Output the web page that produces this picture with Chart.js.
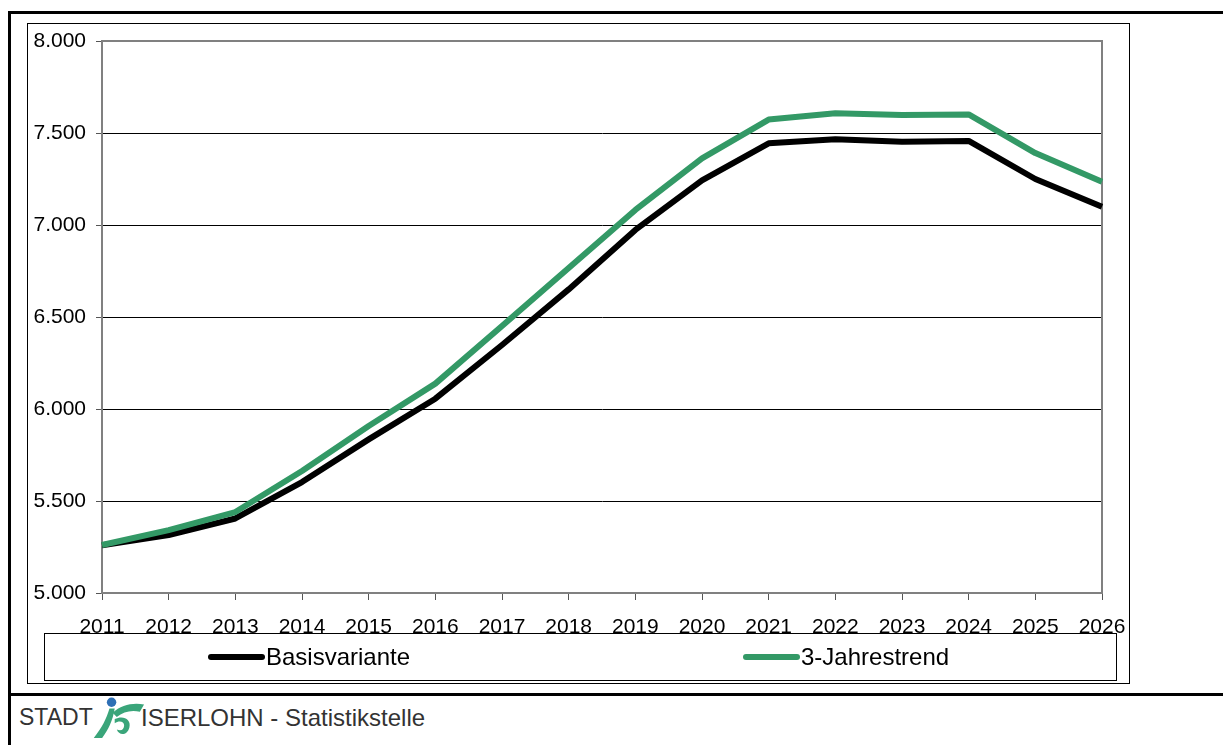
<!DOCTYPE html>
<html lang="de">
<head>
<meta charset="utf-8">
<title>Bevölkerungsprognose</title>
<script src="https://cdn.jsdelivr.net/npm/chart.js@4"></script>
<style>
  html, body { margin:0; padding:0; background:#fff; }
  body { width:1223px; height:745px; position:relative; overflow:hidden; font-family:"Liberation Sans", Arial, sans-serif; }
  #chart { position:absolute; left:0; top:0; }
  .line-top { position:absolute; left:8px; top:11px; width:1215px; height:3px; background:#000; }
  .line-left { position:absolute; left:8px; top:11px; width:3px; height:734px; background:#000; }
  .line-bottom { position:absolute; left:8px; top:693px; width:1215px; height:3px; background:#000; }
  .frame { position:absolute; left:27px; top:23px; width:1101px; height:659px; border:1px solid #000; }
  .footer { position:absolute; left:19px; top:700px; height:40px; color:#333; }
  .footer span { position:absolute; top:4px; white-space:nowrap; }
  #logo { position:absolute; left:72px; top:-4px; }
</style>
</head>
<body>
<div class="line-top"></div>
<div class="line-left"></div>
<div class="line-bottom"></div>
<div class="frame"></div>
<div class="footer">
  <span style="left:0;font-size:23px">STADT</span>
  <svg id="logo" width="60" height="44" viewBox="0 0 56 42">
    <circle cx="19" cy="6" r="4.5" fill="#2e6fb5"/>
    <path d="M2 40 C10 30 14 22 17 12 L22 12 C20 24 16 32 10 40 Z" fill="#3aa57a"/>
    <path d="M20 16 C28 8 40 6 50 8 L46 15 C38 13 30 15 24 20 Z" fill="#3aa57a"/>
    <path d="M22 22 C30 18 38 22 36 30 C34 38 26 38 24 32 C28 34 31 32 31 28 C31 24 26 23 22 26 Z" fill="#3aa57a"/>
  </svg>
  <span style="left:122px;font-size:24px">ISERLOHN - Statistikstelle</span>
</div>
<canvas id="chart" width="1223" height="745"></canvas>
<script>
// Jahre und Prognosewerte
const years = ["2011","2012","2013","2014","2015","2016","2017","2018","2019","2020","2021","2022","2023","2024","2025","2026"];
const basisvariante = [5260, 5315, 5405, 5603, 5835, 6056, 6348, 6650, 6973, 7243, 7444, 7466, 7452, 7457, 7250, 7099];
const jahrestrend  = [5261, 5342, 5440, 5663, 5908, 6138, 6451, 6766, 7082, 7362, 7573, 7607, 7598, 7601, 7391, 7235];
const yTicks = [5000, 5500, 6000, 6500, 7000, 7500, 8000];

const fmtInt = v => String(v).replace(/\B(?=(\d{3})+(?!\d))/g, ".");

// Rahmen der Zeichenfläche (oben/rechts) und Legende
const frameAndLegend = {
  id: "frameAndLegend",
  beforeDatasetsDraw(chart){
    const { ctx, chartArea:a } = chart;
    ctx.save();
    ctx.strokeStyle = "#808080";
    ctx.lineWidth = 2;
    ctx.beginPath();
    ctx.moveTo(a.left, a.top); ctx.lineTo(a.right, a.top); ctx.lineTo(a.right, a.bottom);
    ctx.stroke();
    ctx.restore();
  },
  afterDraw(chart){
    const ctx = chart.ctx;
    ctx.save();
    ctx.strokeStyle = "#000";
    ctx.lineWidth = 1;
    ctx.strokeRect(44.5, 633.5, 1072, 47);
    const slots = [211, 746];
    ctx.font = "24px 'Liberation Sans', Arial, sans-serif";
    ctx.textBaseline = "middle";
    chart.data.datasets.forEach((ds, i) => {
      const x = slots[i], y = 657;
      ctx.strokeStyle = ds.borderColor;
      ctx.lineWidth = 6;
      ctx.lineCap = "round";
      ctx.beginPath(); ctx.moveTo(x, y); ctx.lineTo(x + 51, y); ctx.stroke();
      ctx.fillStyle = "#000";
      ctx.fillText(ds.label, x + 55, y + 1);
    });
    ctx.restore();
  }
};

new Chart(document.getElementById("chart"), {
  type: "line",
  data: {
    labels: years,
    datasets: [
      { label:"Basisvariante", data:basisvariante, borderColor:"#000000", borderWidth:6, pointRadius:0, tension:0, order:1, borderJoinStyle:"round" },
      { label:"3-Jahrestrend", data:jahrestrend, borderColor:"#339966", borderWidth:6, pointRadius:0, tension:0, order:0, borderJoinStyle:"round" }
    ]
  },
  options: {
    responsive:false,
    animation:false,
    layout:{ padding:{ left:0, top:41, right:121, bottom:102 } },
    plugins:{ legend:{ display:false }, tooltip:{ enabled:false } },
    scales:{
      x:{
        offset:false,
        grid:{ drawOnChartArea:false, drawTicks:true, tickLength:7, tickColor:"#555" },
        border:{ color:"#808080", width:2 },
        ticks:{ color:"#000", padding:15, maxRotation:0, autoSkip:false, font:{ family:"'Liberation Sans', Arial, sans-serif", size:21 } },
        afterFit(s){ s.height = 50; }
      },
      y:{
        min:5000, max:8000,
        afterBuildTicks(s){ s.ticks = yTicks.map(v => ({ value:v })); },
        grid:{ color:c => (c.tick && (c.tick.value === 8000 || c.tick.value === 5000)) ? "rgba(0,0,0,0)" : "#000", lineWidth:1, tickLength:6, tickColor:"#555" },
        border:{ color:"#808080", width:2 },
        ticks:{ color:"#000", padding:10, callback:v => fmtInt(v), font:{ family:"'Liberation Sans', Arial, sans-serif", size:21 } },
        afterFit(s){ s.width = 102; }
      }
    }
  },
  plugins:[frameAndLegend]
});
</script>
</body>
</html>
